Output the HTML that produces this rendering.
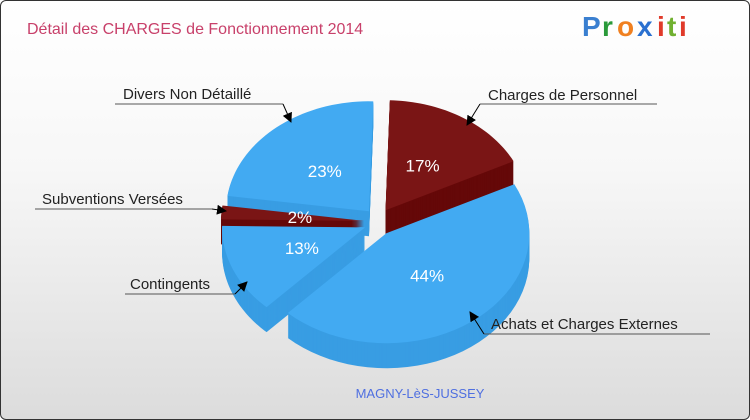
<!DOCTYPE html>
<html><head><meta charset="utf-8"><style>
body{margin:0;width:750px;height:420px;overflow:hidden;font-family:"Liberation Sans",sans-serif}
#wrap{position:absolute;left:0;top:0;width:748px;height:418px;border:1px solid #333;border-radius:6px;background:linear-gradient(#ffffff 0%,#f7f7f7 40%,#dcdcdc 100%)}
</style></head><body>
<div id="wrap">
<svg id="svg" width="750" height="420" style="position:absolute;left:-1px;top:-1px">
<text x="27" y="34" font-size="16" fill="#c8406a">Détail des CHARGES de Fonctionnement 2014</text>
<g font-size="28" font-weight="bold" font-family="Liberation Sans, sans-serif">
<text x="582" y="36" fill="#3a7fd0">P</text><text x="602" y="36" fill="#2a9a3a">r</text><text x="617" y="36" fill="#f08020">o</text><text x="637" y="36" fill="#2a70d0">x</text><text x="657" y="36" fill="#e03a2a">i</text><text x="667" y="36" fill="#70b030">t</text><text x="679" y="36" fill="#e03a2a">i</text>
</g>
<g id="pie"></g>
<g id="labels"></g>
<text x="420" y="398" font-size="13" fill="#4f6fe0" text-anchor="middle">MAGNY-LèS-JUSSEY</text>
</svg></div>
<script>
const categories=["Charges de Personnel","Achats et Charges Externes","Contingents","Subventions Versées","Divers Non Détaillé"];
const values=[17,44,13,2,23];
const pctLabels=["17%","44%","13%","2%","23%"];
const colors=["#7a1515","#42aaf2","#42aaf2","#7a1515","#42aaf2"];
const sideColors=["#650808","#389de3","#389de3","#650808","#389de3"];
const cx=378,cy=222,rx=143,ry=110,depth=25,expl=14;
const NS="http://www.w3.org/2000/svg";
const pie=document.getElementById('pie'),lab=document.getElementById('labels');
const total=values.reduce((a,b)=>a+b,0);
let a=-Math.PI/2+0.03;const slices=[];
values.forEach((v,i)=>{const s=a,e=a+v/total*2*Math.PI;a=e;const m=(s+e)/2;slices.push({i,s,e,m});});
function path(sl,dy){const ox=cx+Math.cos(sl.m)*expl,oy=cy+Math.sin(sl.m)*expl+dy;let d=`M${ox},${oy}`;const n=40;for(let k=0;k<=n;k++){const t=sl.s+(sl.e-sl.s)*k/n;d+=`L${ox+rx*Math.cos(t)},${oy+ry*Math.sin(t)}`;}return d+'Z';}
slices.slice().sort((p,q)=>Math.sin(p.m)-Math.sin(q.m)).forEach(sl=>{
 const g=document.createElementNS(NS,'g');
 
 
 for(let d=depth;d>0;d-=1){const p=document.createElementNS(NS,'path');p.setAttribute('d',path(sl,d));p.setAttribute('fill',sideColors[sl.i]);g.appendChild(p);}
 const t=document.createElementNS(NS,'path');t.setAttribute('d',path(sl,0));t.setAttribute('fill',colors[sl.i]);g.appendChild(t);
 pie.appendChild(g);
});
slices.forEach(sl=>{const r=sl.e-sl.s<0.3?0.45:0.48;const x=cx+Math.cos(sl.m)*(expl+rx*r),y=cy+Math.sin(sl.m)*(expl+ry*r);
 const t=document.createElementNS(NS,'text');t.setAttribute('x',x);t.setAttribute('y',y+6);t.setAttribute('text-anchor','middle');t.setAttribute('font-size','17');t.setAttribute('fill','#fff');t.textContent=pctLabels[sl.i];
 
 
 pie.appendChild(t);});
const callouts=[[488,100,480,657,104,480,467,125],[491,329,484,710,334,484,470,312],[130,289,125,235,294,235,247,282],[42,204,35,212,209,212,226,211],[123,99,115,283,104,283,291,122]];
const defs=document.createElementNS(NS,'defs');defs.innerHTML='<marker id="ar" markerWidth="10" markerHeight="10" refX="9" refY="5" orient="auto" markerUnits="userSpaceOnUse"><path d="M0,0L10,5L0,10Z" fill="#000"/></marker>';lab.appendChild(defs);
callouts.forEach((c,i)=>{const g=document.createElementNS(NS,'g');
 
 
 g.innerHTML=`<polyline points="${c[2]},${c[4]} ${c[3]},${c[4]}" stroke="#555" fill="none"/><line x1="${c[5]}" y1="${c[4]}" x2="${c[6]}" y2="${c[7]}" stroke="#000" marker-end="url(#ar)"/><text x="${c[0]}" y="${c[1]}" font-size="15" fill="#222">${categories[i]}</text>`;
 lab.appendChild(g);});
</script>
</body></html>
